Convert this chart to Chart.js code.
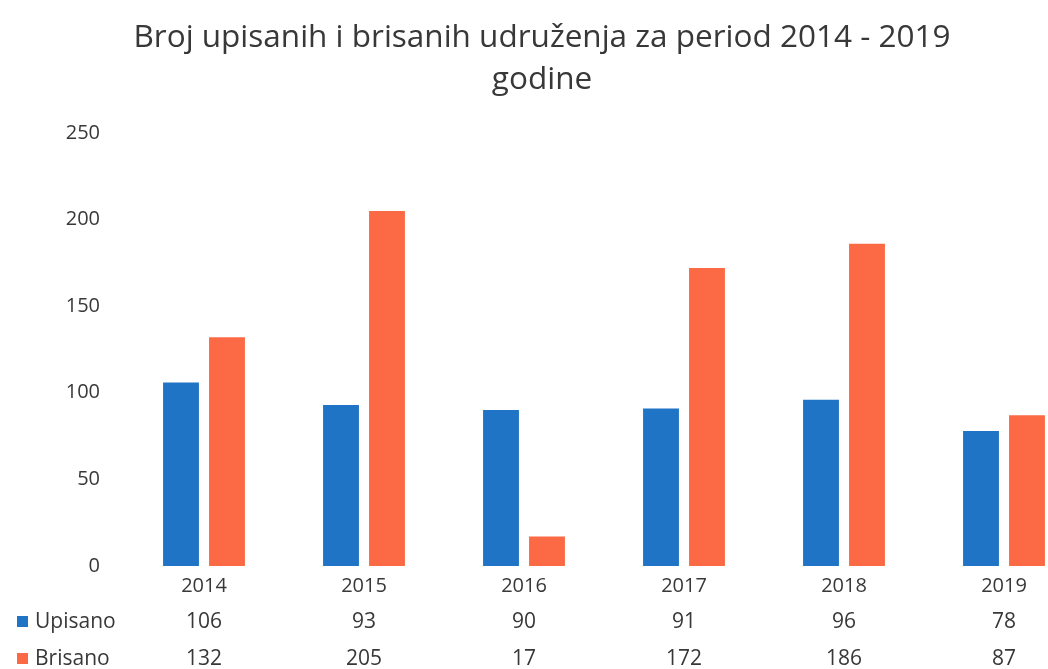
<!DOCTYPE html>
<html>
<head>
<meta charset="utf-8">
<script src="https://cdn.jsdelivr.net/npm/chart.js@4.4.0/dist/chart.umd.min.js"></script>
<style>
  html, body { margin: 0; padding: 0; background: #fff; overflow: hidden; }
  #wrap { width: 1090px; height: 669px; }
</style>
</head>
<body>
<div id="wrap"><canvas id="udruzenjaChart"></canvas></div>
<script>
const years = ['2014', '2015', '2016', '2017', '2018', '2019'];
const upisano = [106, 93, 90, 91, 96, 78];
const brisano = [132, 205, 17, 172, 186, 87];
const yTicks = [0, 50, 100, 150, 200, 250];

const BLUE = '#1f74c6';
const ORANGE = '#fb6a45';
const TEXT = '#383838';
const FONT = "'Open Sans', sans-serif";

// data table under the x axis (legend keys + values)
const dataTable = {
    id: 'dataTable',
    afterDraw(chart) {
        const ctx = chart.ctx;
        const x = chart.scales.x;
        const rows = [
            { label: 'Upisano', color: BLUE, values: upisano, y: 622 },
            { label: 'Brisano', color: ORANGE, values: brisano, y: 659 }
        ];
        ctx.save();
        ctx.font = '21px ' + FONT;
        ctx.textBaseline = 'middle';
        rows.forEach(r => {
            ctx.fillStyle = r.color;
            ctx.fillRect(17, r.y - 6, 11, 11);
            ctx.fillStyle = TEXT;
            ctx.textAlign = 'left';
            ctx.fillText(r.label, 35, r.y);
            ctx.textAlign = 'center';
            r.values.forEach((v, i) => {
                ctx.fillText(String(v), x.getPixelForValue(i), r.y);
            });
        });
        ctx.restore();
    }
};

const ctx = document.getElementById('udruzenjaChart').getContext('2d');
new Chart(ctx, {
    type: 'bar',
    data: {
        labels: years,
        datasets: [
            { label: 'Upisano', data: upisano, backgroundColor: BLUE },
            { label: 'Brisano', data: brisano, backgroundColor: ORANGE }
        ]
    },
    options: {
        responsive: true,
        maintainAspectRatio: false,
        animation: false,
        layout: { padding: { left: 0, right: 6, top: 0, bottom: 0 } },
        categoryPercentage: 0.575,
        barPercentage: 0.78,
        plugins: {
            legend: { display: false },
            tooltip: { enabled: false },
            title: {
                display: true,
                text: ['Broj upisanih i brisanih udruženja za period 2014 - 2019', 'godine'],
                color: TEXT,
                font: { family: FONT, size: 31.5, weight: 'normal', lineHeight: 1.333 },
                padding: { top: 17, bottom: 32 }
            }
        },
        scales: {
            x: {
                grid: { display: false, drawTicks: false },
                border: { display: false },
                ticks: { color: TEXT, font: { family: FONT, size: 20 }, padding: 8 },
                afterFit(scale) { scale.height = 103; }
            },
            y: {
                min: 0,
                max: 250,
                afterBuildTicks(scale) { scale.ticks = yTicks.map(v => ({ value: v })); },
                grid: { display: false, drawTicks: false },
                border: { display: false },
                ticks: { color: TEXT, font: { family: FONT, size: 20 }, padding: 24 },
                afterFit(scale) { scale.width = 124; }
            }
        }
    },
    plugins: [dataTable]
});
</script>
</body>
</html>
